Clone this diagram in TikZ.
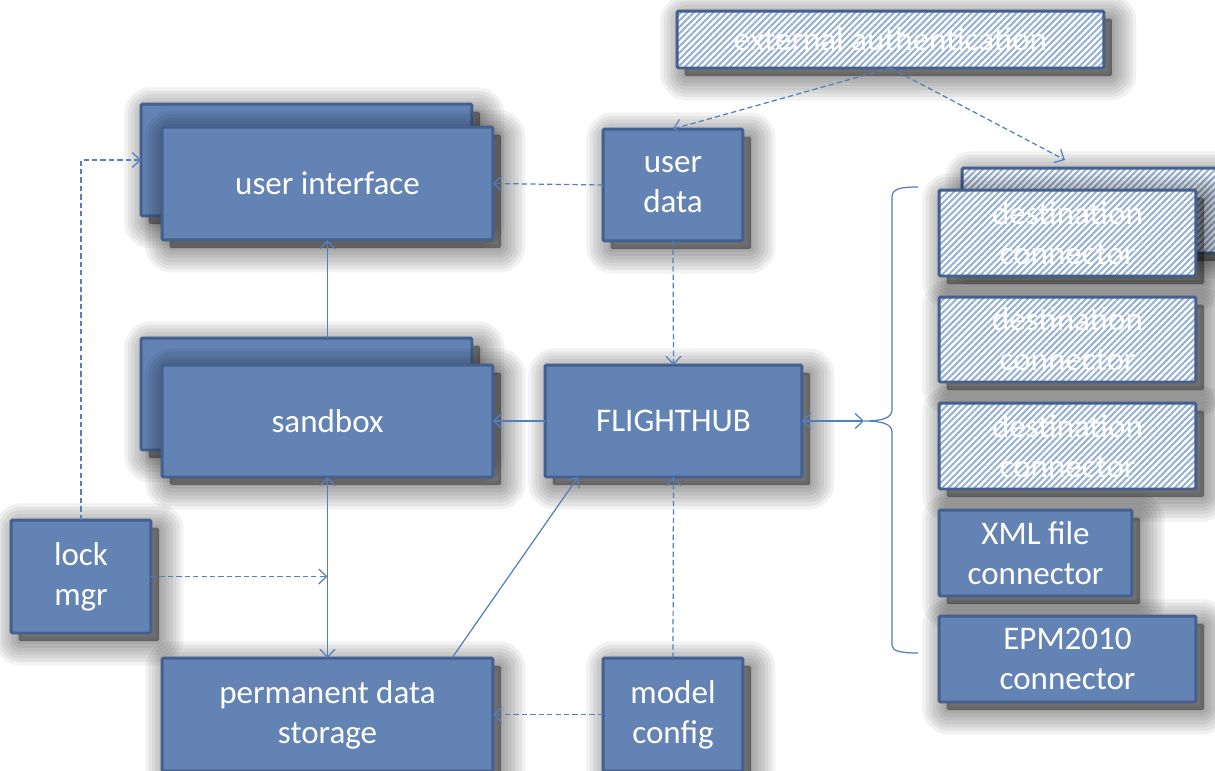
\documentclass[tikz,border=0pt]{standalone}
\usepackage{fontspec}
\setmainfont{Carlito}
\usetikzlibrary{arrows.meta,patterns.meta,calc}
\definecolor{boxfill}{RGB}{99,131,181}
\definecolor{boxline}{RGB}{68,96,142}
\definecolor{conn}{RGB}{84,126,189}
\definecolor{hatch}{RGB}{150,176,212}
\begin{document}
\begin{tikzpicture}[x=0.02cm,y=-0.02cm,
  shl/.style={preaction={draw=black,fill=black,opacity=0.055,line width=#1,line join=round,
      transform canvas={shift={(4.5pt,-4.5pt)}}}},
  shad/.style={shl=28pt,shl=24pt,shl=20pt,shl=16pt,shl=12pt,shl=8pt,shl=4pt,shl=1pt},
  base/.style={shad,draw=boxline,line width=1.7pt,rounded corners=0.8pt,
    inner sep=0pt,outer sep=0pt,text=white,align=center,
    font=\fontsize{18.8}{22.7}\selectfont},
  box/.style={base,fill=boxfill},
  hbox/.style={base,preaction={fill=white},
    pattern={Lines[angle=45,distance=2.6pt,line width=1.15pt]},pattern color=hatch},
  sconn/.style={draw=conn,line width=0.7pt},
  dconn/.style={draw=conn,line width=0.7pt,dash pattern=on 3pt off 1.8pt},
  >={Straight Barb[length=4.5pt,width=8.5pt]}
]
\useasboundingbox (0,0) rectangle (1215,771);
\fill[white] (0,0) rectangle (1215,771);

% boxes
\node[hbox,minimum width=8.54cm,minimum height=1.14cm] (ext) at (890.5,39.5) {external authentication};
\node[box,minimum width=6.62cm,minimum height=2.24cm] (uiB) at (306.5,160) {};
\node[box,minimum width=6.62cm,minimum height=2.26cm] (ui) at (327.5,183.5) {user interface};
\node[box,minimum width=2.8cm,minimum height=2.24cm] (ud) at (673,185) {user\\data};
\node[box,minimum width=6.62cm,minimum height=2.24cm] (sbB) at (306.5,394) {};
\node[box,minimum width=6.62cm,minimum height=2.24cm] (sb) at (327.5,421) {sandbox};
\node[box,minimum width=5.14cm,minimum height=2.24cm] (fh) at (673.5,421) {FLIGHTHUB};
\node[box,minimum width=2.8cm,minimum height=2.26cm] (lock) at (81,576.5) {lock\\mgr};
\node[box,minimum width=6.62cm,minimum height=2.26cm] (pds) at (327.5,714.5) {permanent data\\storage};
\node[box,minimum width=2.8cm,minimum height=2.26cm] (mc) at (673,714.5) {model\\config};
\node[hbox,minimum width=5.36cm,minimum height=1.7cm] (dcB) at (1096,210.5) {};
\node[hbox,minimum width=5.14cm,minimum height=1.72cm] (dc1) at (1067.5,233) {destination\\connector};
\node[hbox,minimum width=5.14cm,minimum height=1.7cm] (dc2) at (1067.5,339.5) {destination\\connector};
\node[hbox,minimum width=5.14cm,minimum height=1.72cm] (dc3) at (1067.5,446) {destination\\connector};
\node[box,minimum width=3.86cm,minimum height=1.72cm] (xml) at (1035.5,553) {XML file\\connector};
\node[box,minimum width=5.14cm,minimum height=1.72cm] (epm) at (1067.5,659) {EPM2010\\connector};

% brace
\coordinate (bt) at (864,421);
\draw[sconn] (918,187) .. controls (900,187) and (892,189) .. (892,197) -- (892,410)
  .. controls (892,418) and (882,421) .. (bt)
  .. controls (882,421) and (892,424) .. (892,432) -- (892,645)
  .. controls (892,651) and (900,653) .. (918,653);

% connectors
\coordinate (extend) at (1065,160);
\draw[dconn,->] (ext.south) -- (ud.north);
\draw[dconn,->] (ext.south) -- (extend);
\draw[dconn,->] (ud.west) -- (ui.east);
\draw[dconn,->] (ud.south) -- (fh.north);
\draw[sconn,->] (sbB.north -| ui.south) -- (ui.south);
\draw[sconn,->] (fh.west) -- (sb.east);
\draw[sconn,<->] (fh.east) -- (bt);
\draw[sconn,<->] (sb.south) -- (pds.north);
\draw[dconn,->] (lock.east) -- (lock.east -| sb.south);
\draw[dconn,->] (lock.north) |- (uiB.west);
\draw[sconn,->] ($(pds.north east)+(-41,0)$) -- ($(fh.south west)+(33,0)$);
\draw[dconn,->] (mc.north) -- (fh.south);
\draw[dconn,->] (mc.west) -- (pds.east);
\end{tikzpicture}
\end{document}
